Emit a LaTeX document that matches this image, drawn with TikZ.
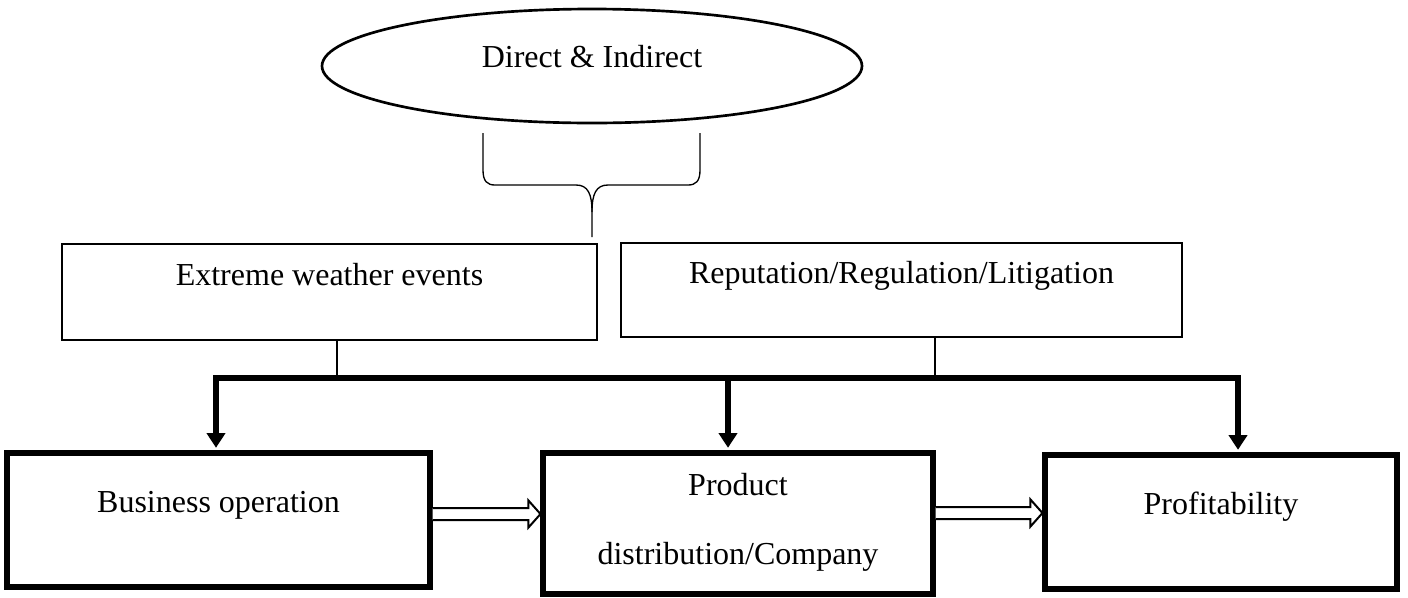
\documentclass[tikz,border=0pt]{standalone}
\usepackage{fontspec}
\setmainfont{Liberation Serif}
\usetikzlibrary{shapes.geometric,arrows.meta,calc}
\tikzset{bigtip/.tip={Triangle[width=13.5pt, length=11pt]}}
\begin{document}
\begin{tikzpicture}[x=0.75pt,y=-0.75pt,
  every node/.style={font=\fontsize{24}{29}\selectfont, inner sep=0pt},
  oval/.style={ellipse, draw, line width=2pt},
  thinbox/.style={rectangle, draw, line width=1.8pt},
  thickbox/.style={rectangle, draw, line width=3.8pt},
  conn/.style={line width=1pt},
  bracepath/.style={line width=1pt},
  bus/.style={line width=4.5pt, line join=miter, shorten <=2pt, shorten >=2pt},
  hollow/.style={line width=1.5pt, line join=miter, fill=white}
]
\useasboundingbox (0,0) rectangle (1408,597);

% top ellipse
\node[oval, minimum width=405pt, minimum height=85.5pt] (ov) at (592,66) {};
\node (ovt) at (592,57) {Direct \& Indirect};

% brace
\draw[bracepath] (483,133) -- (483,170) .. controls (483,181) and (487,185) .. (495,185)
  -- (576,185) .. controls (588,185) and (592,194) .. (592,212) -- (592,237);
\draw[bracepath] (700,133) -- (700,170) .. controls (700,181) and (696,185) .. (688,185)
  -- (608,185) .. controls (596,185) and (592,194) .. (592,212);

% middle row
\node[thinbox, minimum width=401.25pt, minimum height=72pt] (e1) at (329.5,292) {};
\node (e1t) at (329.5,275) {Extreme weather events};
\node[thinbox, minimum width=420.75pt, minimum height=70.5pt] (e2) at (901.5,290) {};
\node (e2t) at (901.5,276) {Reputation/Regulation/Litigation};

% bottom row
\node[thickbox, minimum width=317.25pt, minimum height=100.5pt] (b3) at (218.5,520) {};
\node (b3t) at (218.5,505) {Business operation};
\node[thickbox, minimum width=292.5pt, minimum height=105.75pt] (b4) at (738,523.5) {};
\node (b4a) at (738,485) {Product};
\node (b4b) at (738,557) {distribution/Company};
\node[thickbox, minimum width=264pt, minimum height=100.5pt] (b5) at (1221,522) {};
\node (b5t) at (1221,507) {Profitability};

% bus
\coordinate (bl) at (216,378);
\coordinate (bm) at (728,378);
\coordinate (br) at (1238,378);
\coordinate (j1) at (337,378);
\coordinate (j2) at (935,378);
\draw[conn] (e1.south -| j1) -- (j1);
\draw[conn] (e2.south -| j2) -- (j2);
\draw[bus, bigtip-bigtip] (bl |- b3.north) -- (bl) -- (br) -- (br |- b5.north);
\draw[bus, -bigtip] (bm) -- (bm |- b4.north);

% hollow arrows
\coordinate (h1) at (0,514);
\coordinate (h2) at (0,513);
\coordinate (s1) at (b3.east |- h1);
\coordinate (t1) at (b4.west |- h1);
\coordinate (s2) at (b4.east |- h2);
\coordinate (t2) at (b5.west |- h2);
\draw[hollow] ($(s1)+(0,-6)$) -- ($(t1)+(-12,-6)$) -- ($(t1)+(-12,-13.5)$) -- (t1)
  -- ($(t1)+(-12,13.5)$) -- ($(t1)+(-12,6)$) -- ($(s1)+(0,6)$);
\draw[hollow] ($(s2)+(0,-6)$) -- ($(t2)+(-12,-6)$) -- ($(t2)+(-12,-13.5)$) -- (t2)
  -- ($(t2)+(-12,13.5)$) -- ($(t2)+(-12,6)$) -- ($(s2)+(0,6)$);
\end{tikzpicture}
\end{document}
